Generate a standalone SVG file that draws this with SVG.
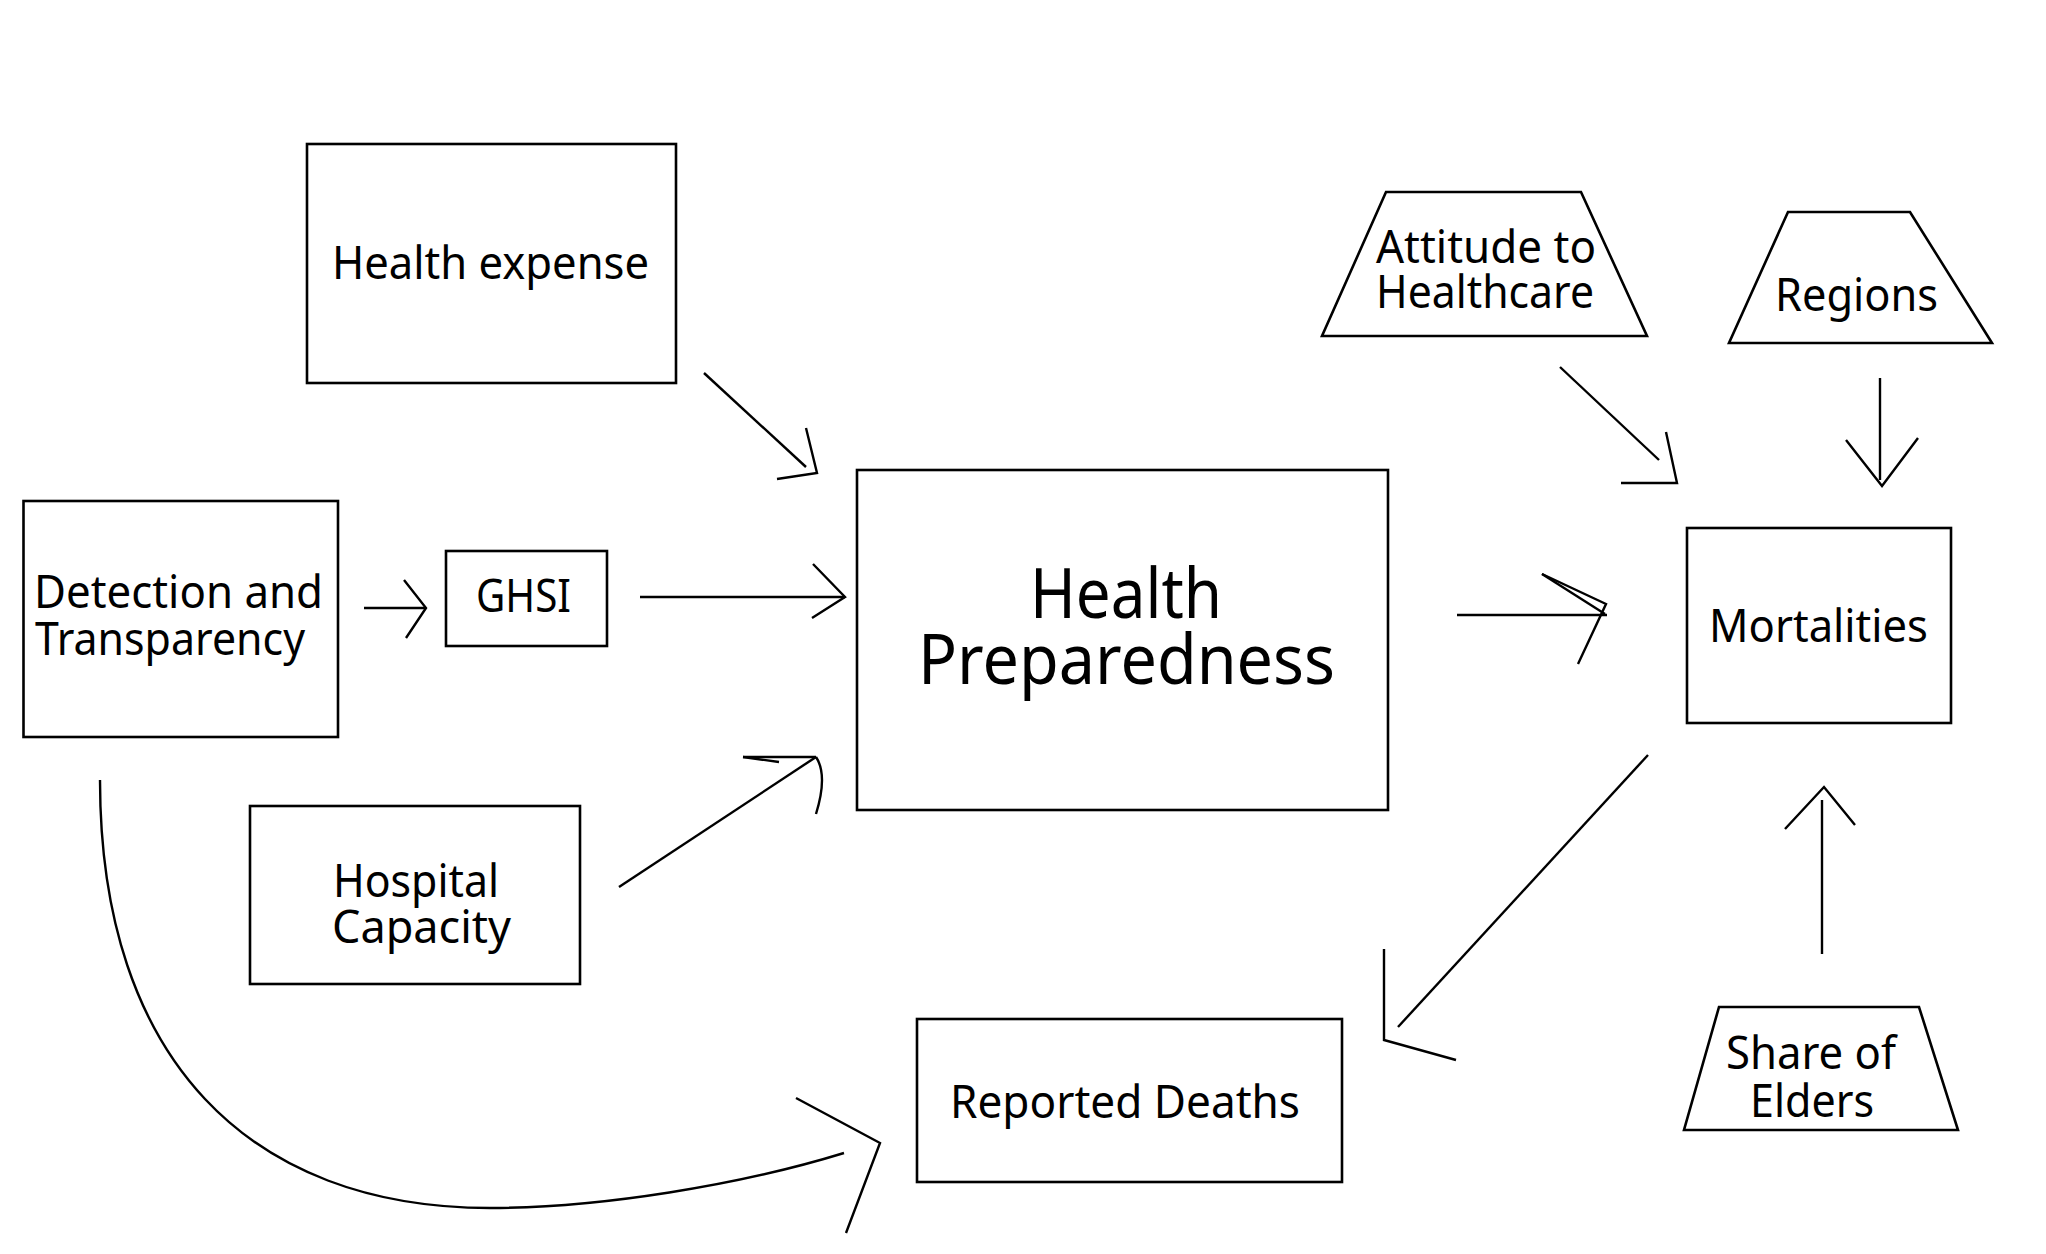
<svg xmlns="http://www.w3.org/2000/svg" width="2046" height="1254" viewBox="0 0 2046 1254">
<style>
.box{fill:#fff;stroke:#000;stroke-width:2.6}
.t{font-family:"Noto Sans","Liberation Sans",sans-serif;font-size:46px;fill:#000}
.big{font-size:70px}
.c{fill:none;stroke:#000;stroke-width:2.4;stroke-linecap:butt;stroke-linejoin:miter}
</style>
<rect width="2046" height="1254" fill="#fff"/>
<g id="health-expense">
<rect class="box" x="307" y="144" width="369" height="239"/>
<text class="t" x="332" y="279" textLength="317" lengthAdjust="spacingAndGlyphs">Health expense</text>
</g>
<g id="detection">
<rect class="box" x="23.5" y="501" width="314.5" height="236"/>
<text class="t" x="34" y="608" textLength="289" lengthAdjust="spacingAndGlyphs">Detection and</text>
<text class="t" x="35" y="655" textLength="270" lengthAdjust="spacingAndGlyphs">Transparency</text>
</g>
<g id="ghsi">
<rect class="box" x="446" y="551" width="161" height="95"/>
<text class="t" x="476" y="612" textLength="95" lengthAdjust="spacingAndGlyphs">GHSI</text>
</g>
<g id="hospital">
<rect class="box" x="250" y="806" width="330" height="178"/>
<text class="t" x="333" y="897" textLength="166" lengthAdjust="spacingAndGlyphs">Hospital</text>
<text class="t" x="332" y="943" textLength="179" lengthAdjust="spacingAndGlyphs">Capacity</text>
</g>
<g id="health-preparedness">
<rect class="box" x="857" y="470" width="531" height="340"/>
<text class="t big" x="1030" y="618" textLength="192" lengthAdjust="spacingAndGlyphs">Health</text>
<text class="t big" x="918" y="684" textLength="417" lengthAdjust="spacingAndGlyphs">Preparedness</text>
</g>
<g id="reported-deaths">
<rect class="box" x="917" y="1019" width="425" height="163"/>
<text class="t" x="950" y="1118" textLength="350" lengthAdjust="spacingAndGlyphs">Reported Deaths</text>
</g>
<g id="mortalities">
<rect class="box" x="1687" y="528" width="264" height="195"/>
<text class="t" x="1709" y="642" textLength="219" lengthAdjust="spacingAndGlyphs">Mortalities</text>
</g>
<g id="attitude">
<polygon class="box" points="1386,192 1581,192 1647,336 1322,336"/>
<text class="t" x="1376" y="263" textLength="220" lengthAdjust="spacingAndGlyphs">Attitude to</text>
<text class="t" x="1376" y="308" textLength="218" lengthAdjust="spacingAndGlyphs">Healthcare</text>
</g>
<g id="regions">
<polygon class="box" points="1788,212 1910,212 1992,343 1729,343"/>
<text class="t" x="1775" y="311" textLength="163" lengthAdjust="spacingAndGlyphs">Regions</text>
</g>
<g id="share-of-elders">
<polygon class="box" points="1719,1007 1919,1007 1958,1130 1684,1130"/>
<text class="t" x="1726" y="1069" textLength="170" lengthAdjust="spacingAndGlyphs">Share of</text>
<text class="t" x="1750" y="1117" textLength="124" lengthAdjust="spacingAndGlyphs">Elders</text>
</g>
<g id="connectors">
<line class="c" x1="704" y1="373" x2="806" y2="467"/>
<polyline class="c" points="806,428 817,473 777,479"/>
<line class="c" x1="364" y1="608" x2="425" y2="608"/>
<polyline class="c" points="404,580 426,608 406,638"/>
<line class="c" x1="640" y1="597" x2="845" y2="597"/>
<polyline class="c" points="813,564 845,597 812,618"/>
<line class="c" x1="619" y1="887" x2="816" y2="757"/>
<line class="c" x1="743" y1="757" x2="816" y2="757"/>
<line class="c" x1="743" y1="757" x2="779" y2="762"/>
<path class="c" d="M816,757 Q828,775 816,814"/>
<line class="c" x1="1457" y1="615" x2="1607" y2="615"/>
<line class="c" x1="1542" y1="574" x2="1605" y2="614"/>
<polyline class="c" points="1542,574 1606,604 1578,664"/>
<line class="c" x1="1560" y1="367" x2="1659" y2="460"/>
<polyline class="c" points="1666,432 1677,483 1621,483"/>
<line class="c" x1="1880" y1="378" x2="1880" y2="480"/>
<polyline class="c" points="1846,440 1882,486 1918,438"/>
<line class="c" x1="1822" y1="954" x2="1822" y2="800"/>
<polyline class="c" points="1785,829 1824,787 1855,825"/>
<line class="c" x1="1648" y1="755" x2="1398" y2="1027"/>
<polyline class="c" points="1384,949 1384,1040 1456,1060"/>
<path class="c" d="M100,780 C100,1060 250,1208 490,1208 C600,1208 740,1185 844,1153"/>
<polyline class="c" points="796,1098 880,1143 846,1233"/>
</g>
</svg>
